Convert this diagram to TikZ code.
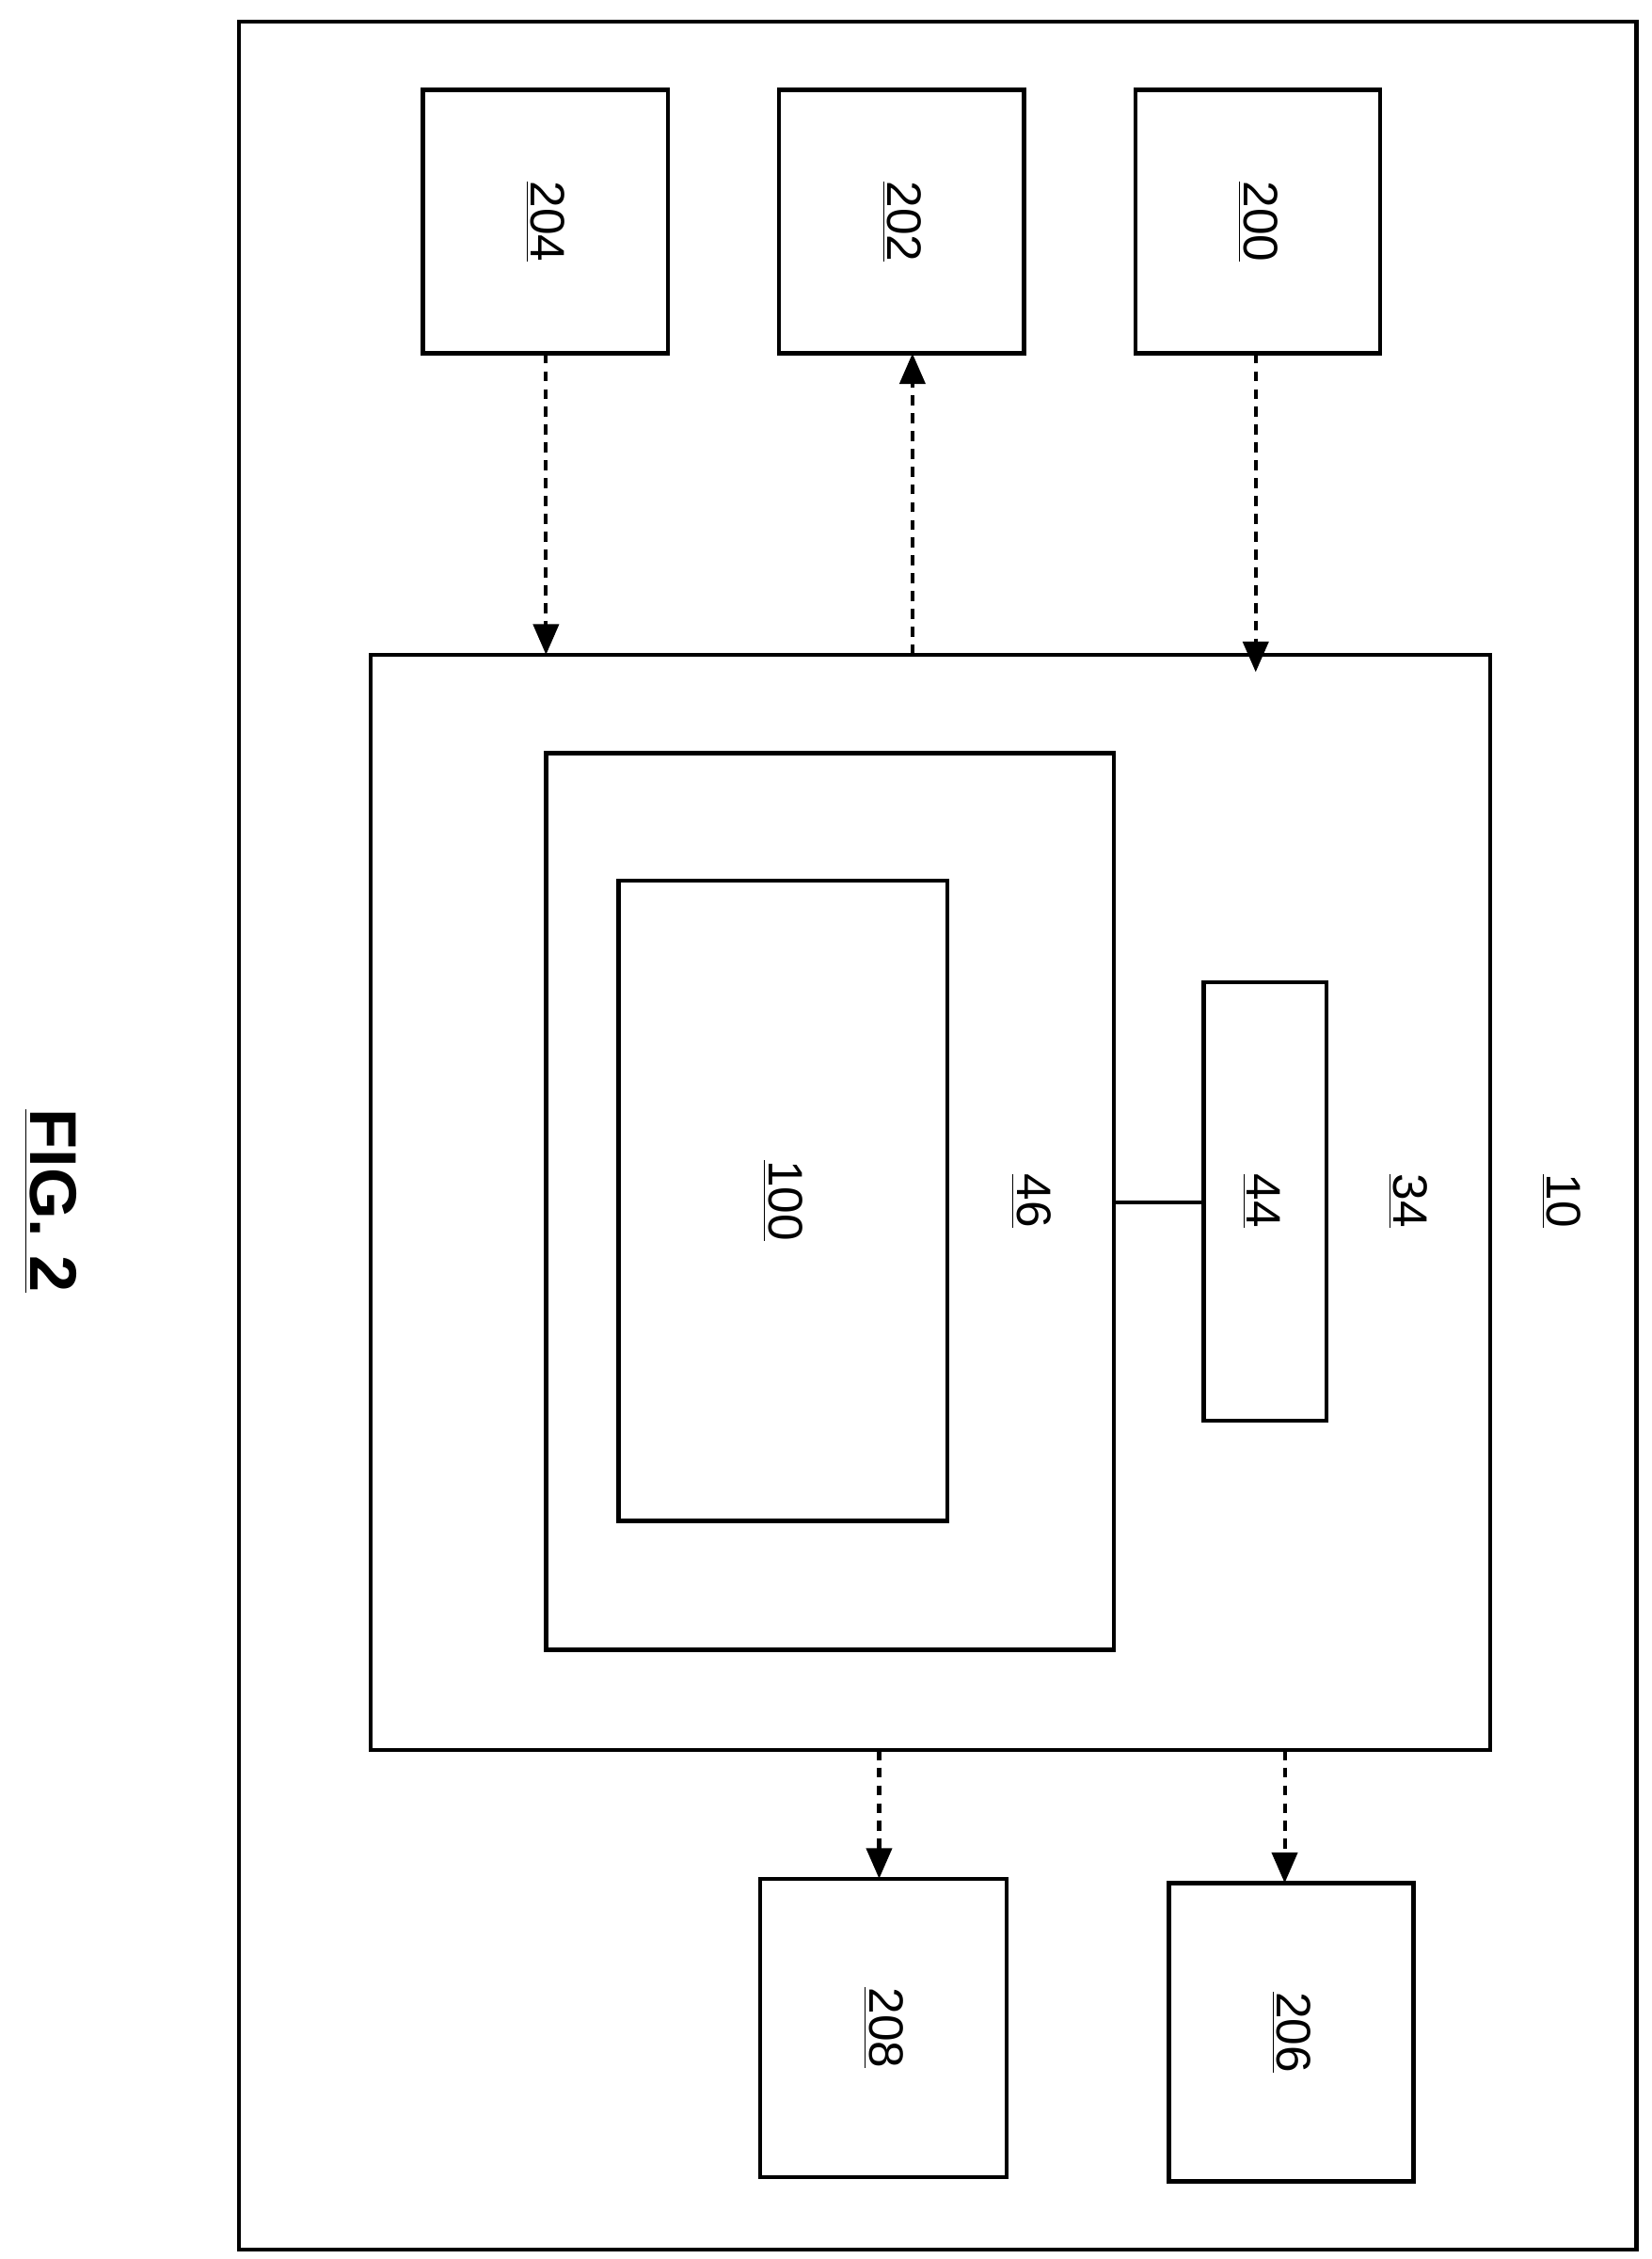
\documentclass[tikz,border=0pt]{standalone}
\usepackage{fontspec}
\setmainfont{Liberation Sans}
\usetikzlibrary{arrows.meta}
\begin{document}
\begin{tikzpicture}[x=0.02cm,y=-0.02cm,
  box/.style={draw,line width=1.6pt},
  lab/.style={rotate=-90,font=\fontsize{19}{22}\selectfont,inner sep=0pt},
  darrow/.style={line width=1.5pt,dash pattern=on 4pt off 3pt,-{Triangle[length=12pt,width=10pt]}}]
\useasboundingbox (0,0) rectangle (1140,1559.6);
\draw[box] (165,15) rectangle (1130,1553);
\draw[box] (292,62) rectangle (461,244) node[lab,midway]{\underline{204}};
\draw[box] (538,62) rectangle (707,244) node[lab,midway]{\underline{202}};
\draw[box] (784,62) rectangle (953,244) node[lab,midway]{\underline{200}};
\draw[box] (256,452) rectangle (1029,1208);
\draw[box] (377,520) rectangle (769,1139);
\draw[box] (427,608) rectangle (654,1050) node[lab,midway]{\underline{100}};
\draw[box] (831,678) rectangle (916,981);
\node[lab] (l44) at (871,829) {\underline{44}};
\node[lab] (l46) at (712,829) {\underline{46}};
\node[lab] (l34) at (972,829) {\underline{34}};
\node[lab] (l10) at (1078,829) {\underline{10}};
\draw[box] (525,1297) rectangle (695,1503) node[lab,midway]{\underline{208}};
\draw[box] (807,1300) rectangle (976,1506) node[lab,midway]{\underline{206}};
\draw[line width=1.6pt] (769,830) -- (831,830);
\coordinate (a1) at (377,244); \coordinate (a2) at (377,452);
\coordinate (b1) at (630,452); \coordinate (b2) at (630,244);
\coordinate (c1) at (867,244); \coordinate (c2) at (867,464);
\coordinate (d1) at (607,1208); \coordinate (d2) at (607,1297);
\coordinate (e1) at (887,1208); \coordinate (e2) at (887,1300);
\draw[darrow] (a1) -- (a2);
\draw[darrow] (b1) -- (b2);
\draw[darrow] (c1) -- (c2);
\draw[darrow] (d1) -- (d2);
\draw[darrow] (e1) -- (e2);
\node[rotate=-90,font=\fontsize{26}{30}\selectfont\bfseries,inner sep=0pt] (fig) at (35,829) {\underline{FIG. 2}};
\end{tikzpicture}
\end{document}
